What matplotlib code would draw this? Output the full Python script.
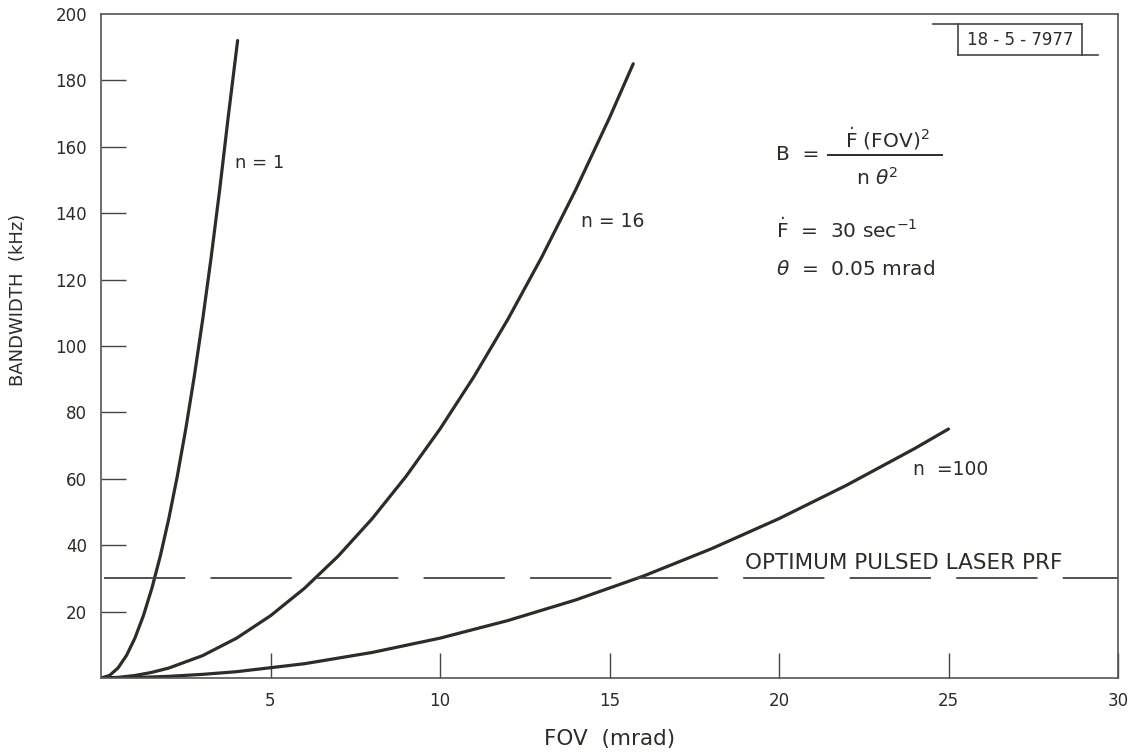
import matplotlib
matplotlib.use("Agg")
import matplotlib.pyplot as plt
from matplotlib.lines import Line2D

# values (FOV in mrad, bandwidth in kHz)
fov_n1 = [0, 0.25, 0.5, 0.75, 1.0, 1.25, 1.5, 1.75, 2.0, 2.25, 2.5, 2.75, 3.0, 3.25, 3.5, 3.75, 4.03]
bw_n1 = [0, 0.75, 3, 6.75, 12, 18.75, 27, 36.75, 48, 60.75, 75, 90.75, 108, 126.75, 147, 168.75, 192]

fov_n16 = [0, 0.5, 1, 1.5, 2, 3, 4, 5, 6, 7, 8, 9, 10, 11, 12, 13, 14, 15, 15.7]
bw_n16 = [0, 0.19, 0.75, 1.7, 3, 6.75, 12, 18.75, 27, 36.75, 48, 60.75, 75, 90.75, 108, 126.75, 147, 168.75, 185]

fov_n100 = [0, 1, 2, 3, 4, 6, 8, 10, 12, 14, 16, 18, 20, 22, 24, 25]
bw_n100 = [0, 0.12, 0.5, 1.1, 1.9, 4.3, 7.7, 12, 17.3, 23.5, 30.7, 38.9, 48, 58.1, 69.1, 75]

prf_level = 30
x_ticks = [5, 10, 15, 20, 25, 30]
y_ticks = [20, 40, 60, 80, 100, 120, 140, 160, 180, 200]
curve_labels = ["n = 1", "n = 16", "n  =100"]

ink = "#2a2d28"
plt.rcParams["font.family"] = ["DejaVu Sans"]
plt.rcParams["mathtext.fontset"] = "dejavusans"

fig = plt.figure(figsize=(11.33, 7.52), dpi=100)
ax = fig.add_axes([101 / 1133, 74 / 752, 1017 / 1133, 664 / 752])

for xs, ys in [(fov_n1, bw_n1), (fov_n16, bw_n16), (fov_n100, bw_n100)]:
    ax.plot(xs, ys, color=ink, lw=2.3, solid_capstyle="round", solid_joinstyle="round")

ax.axhline(prf_level, xmin=0.003, color="#444", lw=1.3, dashes=(45, 14))

ax.set_xlim(0, 30)
ax.set_ylim(0, 200)
ax.set_xticks(x_ticks)
ax.set_yticks(y_ticks)
ax.tick_params(direction="in", length=18, width=1.0, color="#444",
               labelsize=12, labelcolor=ink, pad=10)
ax.yaxis.get_major_ticks()[-1].tick1line.set_visible(False)
for s in ax.spines.values():
    s.set_color("#555")
    s.set_linewidth(1.2)

ax.set_xlabel("FOV  (mrad)", fontsize=15.5, color=ink, labelpad=14)
fig.text(18 / 1133, 1 - 300 / 752, "BANDWIDTH  (kHz)", rotation=90, fontsize=13,
         color=ink, ha="center", va="center")

# curve labels
ax.text(3.95, 155, curve_labels[0], fontsize=13, color=ink, va="center")
ax.text(14.15, 137.5, curve_labels[1], fontsize=13.5, color=ink, va="center")
ax.text(23.95, 62.7, curve_labels[2], fontsize=13.5, color=ink, va="center")
ax.text(19.0, 34.7, "OPTIMUM PULSED LASER PRF", fontsize=15.5, color=ink, va="center")

# formula block
ax.text(19.9, 157.8, "B  =", fontsize=14.5, color=ink, va="center")
ax.text(23.2, 159.8, r"$\dot{\mathrm{F}}$ (FOV)$^{2}$", fontsize=14.5, color=ink,
        ha="center", va="baseline")
ax.plot([21.45, 24.8], [157.4, 157.4], color=ink, lw=1.4)
ax.text(22.9, 150.6, r"n $\mathit{\theta}^{2}$", fontsize=14.5, color=ink,
        ha="center", va="center")
ax.text(19.9, 135.1, r"$\dot{\mathrm{F}}$  =  30 sec$^{-1}$", fontsize=14.5, color=ink, va="center")
ax.text(19.9, 123.1, r"$\mathit{\theta}$  =  0.05 mrad", fontsize=14.5, color=ink, va="center")

# drawing number box
fig.text(1020 / 1133, 1 - 40 / 752, "18 - 5 - 7977", fontsize=12, color=ink,
         ha="center", va="center", fontweight="medium")
H, W = 752, 1133
for (x0, x1, y0, y1) in [(933, 1082, 24, 24), (958, 1098, 55, 55),
                         (958, 958, 24, 55), (1082, 1082, 24, 55)]:
    fig.add_artist(Line2D([x0 / W, x1 / W], [1 - y0 / H, 1 - y1 / H], color="#444", lw=1.2))

fig.savefig("out.png", dpi=100)
